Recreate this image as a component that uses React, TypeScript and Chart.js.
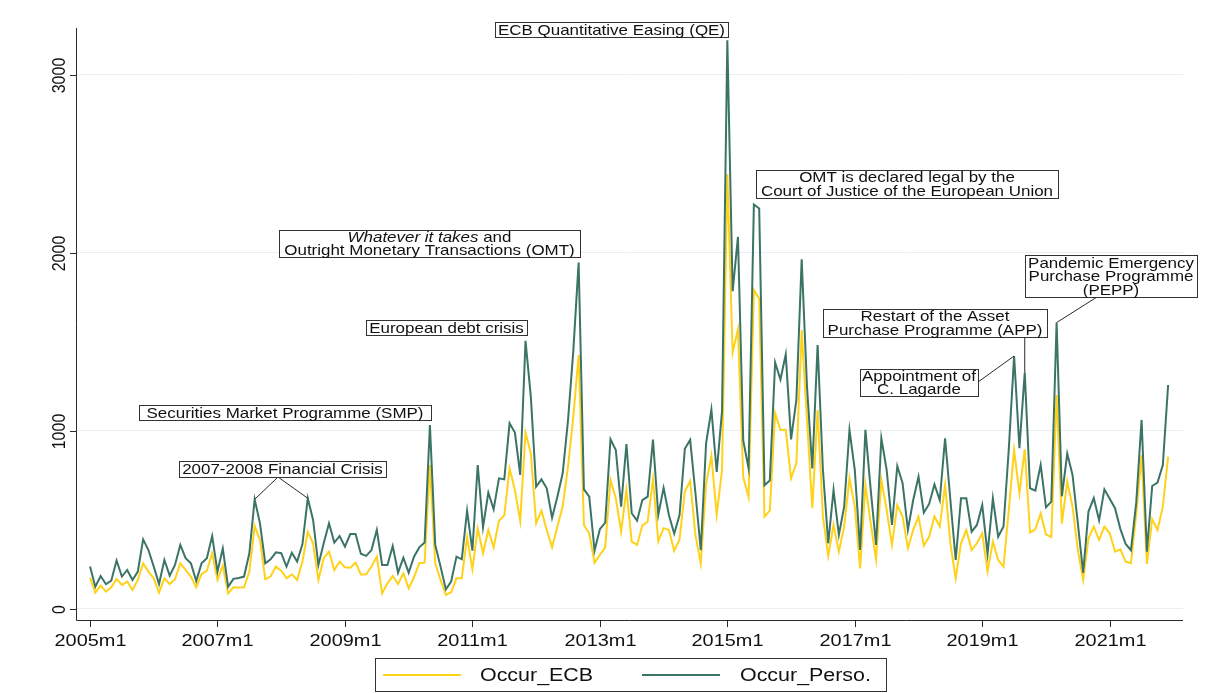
import React, { useEffect, useRef } from "react";
import { Chart, registerables } from "chart.js";

Chart.register(...registerables);

// Monthly counts, 2005m1 .. 2021m12 (index 0 = 2005m1)
const occurPerso = [
  238, 125, 185, 139, 159, 272, 182, 219, 163, 210, 391, 331,
  238, 140, 275, 187, 247, 360, 285, 256, 157, 256, 285, 410,
  210, 340, 125, 169, 174, 182, 313, 616, 481, 256, 279, 318,
  313, 238, 316, 266, 365, 622, 500, 247, 369, 481, 373, 410,
  350, 421, 421, 310, 298, 331, 444, 247, 247, 354, 204, 288,
  204, 294, 346, 373, 1034, 360, 238, 110, 154, 294, 279, 552,
  328, 809, 459, 654, 560, 734, 728, 1043, 991, 753, 1507, 1193,
  687, 728, 678, 513, 631, 762, 1060, 1450, 1946, 672, 631, 328,
  448, 485, 953, 893, 575, 927, 538, 496, 612, 631, 951, 528,
  680, 528, 423, 528, 900, 950, 650, 330, 930, 1120, 770, 1110,
  3195, 1785, 2090, 945, 790, 2272, 2250, 695, 722, 1385, 1289, 1430,
  953, 1174, 1964, 1250, 790, 1483, 781, 369, 669, 416, 575, 1006,
  781, 331, 1006, 669, 360, 959, 781, 472, 803, 706, 444, 612,
  743, 541, 590, 700, 612, 959, 612, 275, 622, 622, 434, 472,
  584, 309, 622, 406, 463, 900, 1421, 903, 1328, 678, 665, 809,
  571, 603, 1609, 633, 873, 753, 481, 204, 547, 623, 498, 672,
  619, 566, 450, 365, 330, 600, 1062, 322, 691, 710, 809, 1258,
];

const occurECB = [
  176, 92, 131, 97, 122, 169, 135, 154, 107, 163, 256, 210,
  172, 92, 172, 140, 167, 256, 219, 182, 122, 195, 215, 313,
  163, 243, 88, 122, 120, 122, 210, 466, 388, 167, 182, 238,
  215, 172, 195, 163, 266, 434, 369, 163, 285, 322, 219, 266,
  234, 232, 260, 194, 195, 238, 294, 88, 144, 185, 140, 200,
  116, 178, 257, 260, 809, 257, 163, 79, 94, 172, 172, 403,
  223, 453, 313, 444, 346, 496, 525, 790, 669, 494, 991, 875,
  481, 552, 444, 346, 463, 575, 800, 1080, 1427, 472, 425, 260,
  303, 346, 725, 622, 434, 669, 378, 360, 470, 490, 729, 380,
  454, 444, 327, 391, 660, 720, 415, 255, 700, 860, 530, 780,
  2443, 1440, 1572, 740, 630, 1792, 1742, 518, 552, 1100, 1005, 1006,
  734, 818, 1567, 1062, 566, 1118, 519, 298, 472, 322, 463, 734,
  575, 228, 697, 481, 279, 725, 556, 360, 584, 519, 341, 444,
  519, 355, 405, 519, 463, 697, 369, 172, 369, 444, 331, 369,
  425, 210, 378, 275, 238, 556, 893, 650, 897, 429, 448, 537,
  419, 403, 1202, 481, 715, 575, 331, 163, 397, 463, 388, 463,
  425, 322, 335, 266, 257, 537, 865, 253, 504, 444, 575, 856,
];

const xTickLabels = ["2005m1", "2007m1", "2009m1", "2011m1", "2013m1", "2015m1", "2017m1", "2019m1", "2021m1"];
const xTickIndex = [0, 24, 48, 72, 96, 120, 144, 168, 192];
const yTickValues = [0, 1000, 2000, 3000];
const seriesNames = ["Occur_ECB", "Occur_Perso."];

const YELLOW = "#FFD21A";
const GREEN = "#3B7466";
const FONT = '"Liberation Sans", Arial, sans-serif';
const SX = 1.17;
const ASX = 1.13;

type Seg = { t: string; italic?: boolean };
type Ann = {
  box: { x: number; y: number; w: number; h: number };
  lines: Seg[][];
  links?: { from: [number, number]; idx: number }[];
};

const annotations: Ann[] = [
  { box: { x: 495, y: 22, w: 233, h: 15 }, lines: [[{ t: "ECB Quantitative Easing (QE)" }]] },
  {
    box: { x: 756, y: 170, w: 302, h: 28 },
    lines: [[{ t: "OMT is declared legal by the" }], [{ t: "Court of Justice of the European Union" }]],
  },
  {
    box: { x: 279, y: 230, w: 301, h: 27 },
    lines: [[{ t: "Whatever it takes", italic: true }, { t: " and" }], [{ t: "Outright Monetary Transactions (OMT)" }]],
  },
  { box: { x: 366, y: 320, w: 161, h: 15 }, lines: [[{ t: "European debt crisis" }]] },
  { box: { x: 139, y: 405, w: 292, h: 15 }, lines: [[{ t: "Securities Market Programme (SMP)" }]] },
  {
    box: { x: 179, y: 461, w: 207, h: 16 },
    lines: [[{ t: "2007-2008 Financial Crisis" }]],
    links: [
      { from: [278, 477], idx: 31 },
      { from: [278, 477], idx: 41 },
    ],
  },
  {
    box: { x: 823, y: 309, w: 224, h: 28 },
    lines: [[{ t: "Restart of the Asset" }], [{ t: "Purchase Programme (APP)" }]],
    links: [{ from: [-1, 337], idx: 176 }],
  },
  {
    box: { x: 860, y: 369, w: 118, h: 27 },
    lines: [[{ t: "Appointment of" }], [{ t: "C. Lagarde" }]],
    links: [{ from: [978, 382], idx: 174 }],
  },
  {
    box: { x: 1025, y: 255, w: 172, h: 42 },
    lines: [[{ t: "Pandemic Emergency" }], [{ t: "Purchase Programme" }], [{ t: "(PEPP)" }]],
    links: [{ from: [1097, 297], idx: 182 }],
  },
];

function font(size: number, italic = false) {
  return `${italic ? "italic " : ""}${size}px ${FONT}`;
}

function drawSegs(ctx: CanvasRenderingContext2D, segs: Seg[], cx: number, cy: number, size: number, sx: number) {
  let total = 0;
  const widths = segs.map((s) => {
    ctx.font = font(size, s.italic);
    const w = ctx.measureText(s.t).width * sx;
    total += w;
    return w;
  });
  let x = cx - total / 2;
  segs.forEach((s, i) => {
    ctx.save();
    ctx.font = font(size, s.italic);
    ctx.textAlign = "left";
    ctx.textBaseline = "middle";
    ctx.translate(x, cy);
    ctx.scale(sx, 1);
    ctx.fillText(s.t, 0, 0);
    ctx.restore();
    x += widths[i];
  });
}

const overlay = {
  id: "stataOverlay",
  afterDraw(chart: any) {
    const { ctx, chartArea, scales } = chart;
    const { left, right, top, bottom } = chartArea;
    const xs = scales.x;
    const ys = scales.y;
    ctx.save();
    ctx.strokeStyle = "#2a2a2a";
    ctx.lineWidth = 1;
    ctx.fillStyle = "#111";
    // axis lines
    ctx.beginPath();
    ctx.moveTo(left + 0.5, top);
    ctx.lineTo(left + 0.5, bottom + 0.5);
    ctx.lineTo(right, bottom + 0.5);
    ctx.stroke();
    // y ticks + rotated labels
    yTickValues.forEach((v) => {
      const py = Math.round(ys.getPixelForValue(v)) + 0.5;
      ctx.beginPath();
      ctx.moveTo(left - 6, py);
      ctx.lineTo(left, py);
      ctx.stroke();
      ctx.save();
      ctx.translate(left - 16, py);
      ctx.rotate(-Math.PI / 2);
      ctx.scale(1, SX);
      ctx.font = font(16);
      ctx.textAlign = "center";
      ctx.textBaseline = "middle";
      ctx.fillText(String(v), 0, 0);
      ctx.restore();
    });
    // x ticks + labels
    xTickIndex.forEach((idx, k) => {
      const px = Math.round(xs.getPixelForValue(idx)) + 0.5;
      ctx.beginPath();
      ctx.moveTo(px, bottom);
      ctx.lineTo(px, bottom + 7);
      ctx.stroke();
      drawSegs(ctx, [{ t: xTickLabels[k] }], px, bottom + 21, 17, SX);
    });
    // annotations
    annotations.forEach((a) => {
      const { x, y, w, h } = a.box;
      (a.links || []).forEach((l) => {
        const tx = xs.getPixelForValue(l.idx);
        const ty = ys.getPixelForValue(occurPerso[l.idx]);
        const fx = l.from[0] < 0 ? tx : l.from[0];
        ctx.strokeStyle = "#2a2a2a";
        ctx.beginPath();
        ctx.moveTo(fx, l.from[1]);
        ctx.lineTo(tx, ty);
        ctx.stroke();
      });
      ctx.fillStyle = "#fff";
      ctx.fillRect(x, y, w, h);
      ctx.strokeStyle = "#333";
      ctx.strokeRect(x + 0.5, y + 0.5, w, h);
      ctx.fillStyle = "#111";
      const n = a.lines.length;
      const lh = 13.5;
      const cy0 = y + h / 2 + 1 - ((n - 1) * lh) / 2;
      a.lines.forEach((segs, i) => drawSegs(ctx, segs, x + w / 2, cy0 + i * lh, 15, ASX));
    });
    // legend
    const lb = { x: 375, y: 658, w: 511, h: 33 };
    ctx.fillStyle = "#fff";
    ctx.fillRect(lb.x, lb.y, lb.w, lb.h);
    ctx.strokeStyle = "#333";
    ctx.strokeRect(lb.x + 0.5, lb.y + 0.5, lb.w, lb.h);
    const ly = lb.y + 17;
    const items = [
      { c: YELLOW, x0: 383, x1: 461, tx: 480 },
      { c: GREEN, x0: 642, x1: 720, tx: 740 },
    ];
    items.forEach((it, k) => {
      ctx.strokeStyle = it.c;
      ctx.lineWidth = 2;
      ctx.beginPath();
      ctx.moveTo(it.x0, ly);
      ctx.lineTo(it.x1, ly);
      ctx.stroke();
      ctx.fillStyle = "#111";
      ctx.save();
      ctx.font = font(18);
      ctx.textAlign = "left";
      ctx.textBaseline = "middle";
      ctx.translate(it.tx, ly + 1);
      ctx.scale(1.19, 1);
      ctx.fillText(seriesNames[k], 0, 0);
      ctx.restore();
    });
    ctx.restore();
  },
};

export default function App() {
  const ref = useRef<HTMLCanvasElement | null>(null);
  useEffect(() => {
    if (!ref.current) return;
    const toXY = (arr: number[]) => arr.map((v, i) => ({ x: i, y: v }));
    const chart = new Chart(ref.current, {
      type: "line",
      data: {
        datasets: [
          {
            label: seriesNames[1],
            data: toXY(occurPerso),
            borderColor: GREEN,
            borderWidth: 2,
            pointRadius: 0,
            tension: 0,
            order: 0,
          },
          {
            label: seriesNames[0],
            data: toXY(occurECB),
            borderColor: YELLOW,
            borderWidth: 2,
            pointRadius: 0,
            tension: 0,
            order: 1,
          },
        ],
      },
      options: {
        responsive: false,
        animation: false,
        devicePixelRatio: 1,
        layout: { padding: { left: 0, top: 28, right: 24, bottom: 0 } },
        plugins: { legend: { display: false }, tooltip: { enabled: false } },
        scales: {
          x: {
            type: "linear",
            min: -2.64,
            max: 205.8,
            grid: { display: false },
            border: { display: false },
            ticks: { display: false },
            afterFit: (s: any) => {
              s.height = 73;
            },
          },
          y: {
            type: "linear",
            min: -62,
            max: 3264,
            grid: { color: "#e8eff1", lineWidth: 1, drawTicks: false },
            border: { display: false },
            ticks: { display: false },
            afterBuildTicks: (s: any) => {
              s.ticks = yTickValues.map((v) => ({ value: v }));
            },
            afterFit: (s: any) => {
              s.width = 76;
            },
          },
        },
      },
      plugins: [overlay],
    });
    return () => chart.destroy();
  }, []);
  return (
    <div style={{ position: "fixed", left: 0, top: 0, width: 1207, height: 693, background: "#fff" }}>
      <canvas ref={ref} width={1207} height={693} style={{ width: 1207, height: 693 }} />
    </div>
  );
}
